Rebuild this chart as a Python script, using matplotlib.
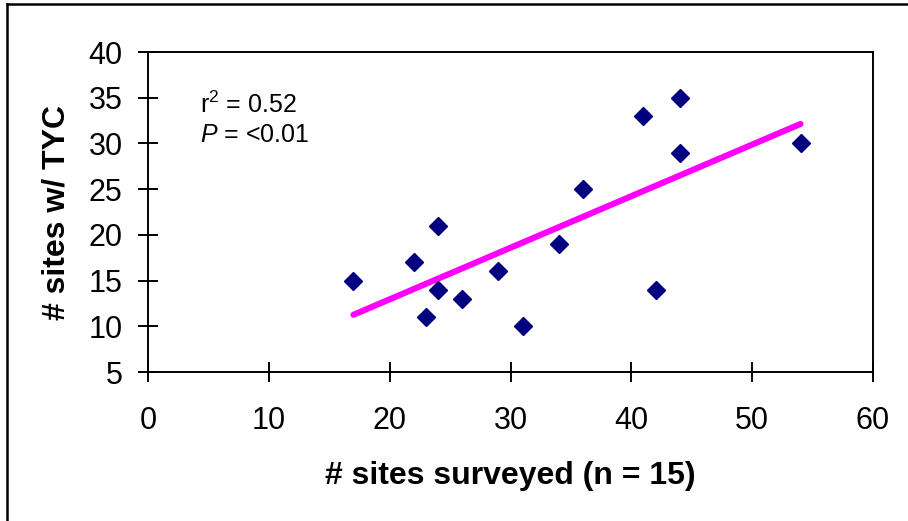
import numpy as np
import matplotlib
matplotlib.use("Agg")
import matplotlib.pyplot as plt
from matplotlib.lines import Line2D

plt.rcParams['font.family'] = ['Liberation Sans', 'DejaVu Sans']
plt.rcParams['mathtext.fontset'] = 'custom'
plt.rcParams['mathtext.rm'] = 'Liberation Sans'
plt.rcParams['mathtext.it'] = 'Liberation Sans:italic'

# data
sites_surveyed = [17, 22, 23, 24, 24, 26, 29, 31, 34, 36, 41, 42, 44, 44, 54]
sites_tyc = [15, 17, 11, 21, 14, 13, 16, 10, 19, 25, 33, 14, 35, 29, 30]
x_ticks = [0, 10, 20, 30, 40, 50, 60]
y_ticks = [5, 10, 15, 20, 25, 30, 35, 40]

x = np.array(sites_surveyed, dtype=float)
y = np.array(sites_tyc, dtype=float)

# linear fit for the trend line
slope, icpt = np.polyfit(x, y, 1)
xfit = np.array([x.min(), x.max()])
yfit = slope * xfit + icpt

fig = plt.figure(figsize=(9.08, 5.21), dpi=100)
ax = fig.add_axes([148/908, 1 - 372/521, (873-148)/908, (372-52)/521])

ax.plot(xfit, yfit, color='#FF00FF', lw=4.4, solid_capstyle='round', zorder=2)
ax.plot(x, y, 'D', color='#000080', ms=9, mec='#000080', zorder=3)

ax.set_xlim(0, 60)
ax.set_ylim(5, 40)
ax.set_xticks(x_ticks)
ax.set_yticks(y_ticks)
for s in ax.spines.values():
    s.set_linewidth(1.4)
ax.tick_params(direction='inout', length=14.4, width=1.4, labelsize=22)
ax.tick_params(axis='x', pad=17)
ax.tick_params(axis='y', pad=11)

ax.set_xlabel('# sites surveyed (n = 15)', fontsize=23, fontweight='bold', labelpad=18)
ax.set_ylabel('# sites w/ TYC', fontsize=23, fontweight='bold', labelpad=12)

ax.text(0.072, 0.834, r'r$^{2}$ = 0.52', transform=ax.transAxes, fontsize=18, va='center')
ax.text(0.072, 0.74, r'$P$ = <0.01', transform=ax.transAxes, fontsize=18, va='center')

# chart border (only left and top edges are visible in the image)
fig.add_artist(Line2D([7/908, 7/908], [0, 1 - 4/521], transform=fig.transFigure, color='black', lw=1.8))
fig.add_artist(Line2D([7/908, 1], [1 - 4/521, 1 - 4/521], transform=fig.transFigure, color='black', lw=1.8))

fig.savefig('out.png', dpi=100)
